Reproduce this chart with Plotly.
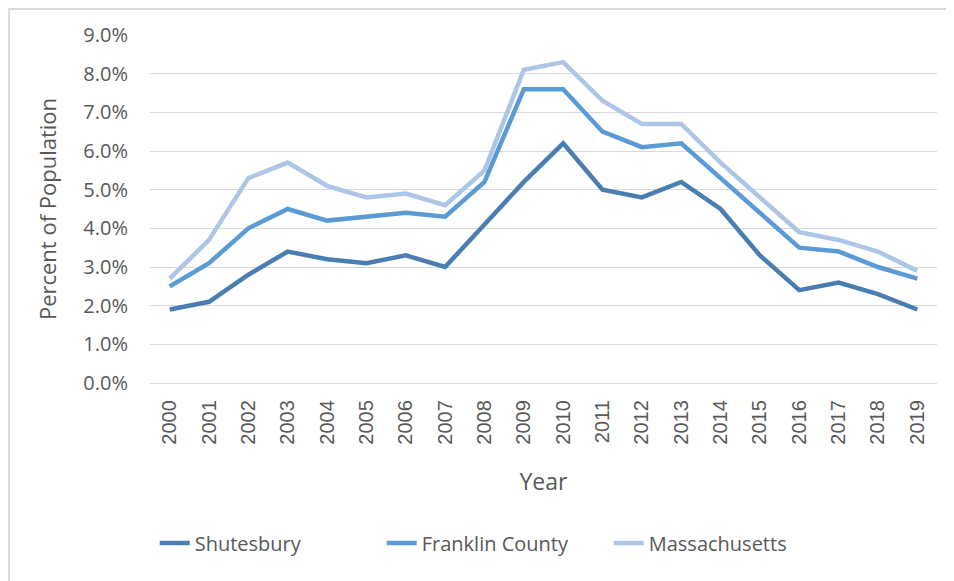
import plotly.graph_objects as go

years = [str(y) for y in range(2000, 2020)]
shutesbury = [1.9, 2.1, 2.8, 3.4, 3.2, 3.1, 3.3, 3.0, 4.1, 5.2, 6.2, 5.0, 4.8, 5.2, 4.5, 3.3, 2.4, 2.6, 2.3, 1.9]
franklin = [2.5, 3.1, 4.0, 4.5, 4.2, 4.3, 4.4, 4.3, 5.2, 7.6, 7.6, 6.5, 6.1, 6.2, 5.3, 4.4, 3.5, 3.4, 3.0, 2.7]
massachusetts = [2.7, 3.7, 5.3, 5.7, 5.1, 4.8, 4.9, 4.6, 5.5, 8.1, 8.3, 7.3, 6.7, 6.7, 5.7, 4.8, 3.9, 3.7, 3.4, 2.9]
y_ticks = [i * 1.0 for i in range(10)]
y_tick_labels = [f"{v:.1f}%" for v in y_ticks]

series = [
    ("Shutesbury", shutesbury, "#4a7eb1"),
    ("Franklin County", franklin, "#5b9bd5"),
    ("Massachusetts", massachusetts, "#adc6e7"),
]

fig = go.Figure()
for name, vals, color in series:
    fig.add_trace(go.Scatter(x=years, y=vals, name=name, mode="lines",
                             line=dict(color=color, width=4.5)))

font_family = "Open Sans, Noto Sans, sans-serif"
fig.update_layout(
    width=954, height=581,
    margin=dict(l=142, r=25, t=27, b=206, autoexpand=False),
    paper_bgcolor="white", plot_bgcolor="white",
    font=dict(family=font_family, color="#595959"),
    showlegend=True,
    legend=dict(orientation="h", x=0.006, xanchor="left", y=-0.46, yanchor="middle",
                font=dict(size=20, color="#595959", family=font_family),
                entrywidth=182, entrywidthmode="pixels", tracegroupgap=0),
    xaxis=dict(type="category", tickangle=-90,
               tickfont=dict(size=20, color="#595959", family="Liberation Sans, Arial, sans-serif"),
               showgrid=False, showline=True, linecolor="#d9d9d9", linewidth=1.3,
               ticks="", range=[-0.5, 19.5], ticklabelstandoff=8,
               title=dict(text="Year", font=dict(size=23, color="#595959"), standoff=30)),
    yaxis=dict(range=[0, 9], tickvals=y_ticks, ticktext=y_tick_labels,
               tickfont=dict(size=20, color="#595959"),
               showgrid=True, gridcolor="#d9d9d9", gridwidth=1.3, zeroline=False,
               showline=False, ticks="", ticklabelstandoff=21,
               title=dict(text="Percent of Population", font=dict(size=22, color="#595959"), standoff=20)),
    shapes=[dict(type="rect", xref="paper", yref="paper",
                 x0=-0.179, x1=1.1, y0=-0.7, y1=1.0747,
                 line=dict(color="#d9d9d9", width=2), layer="below")],
)

fig.write_html("out.html")
